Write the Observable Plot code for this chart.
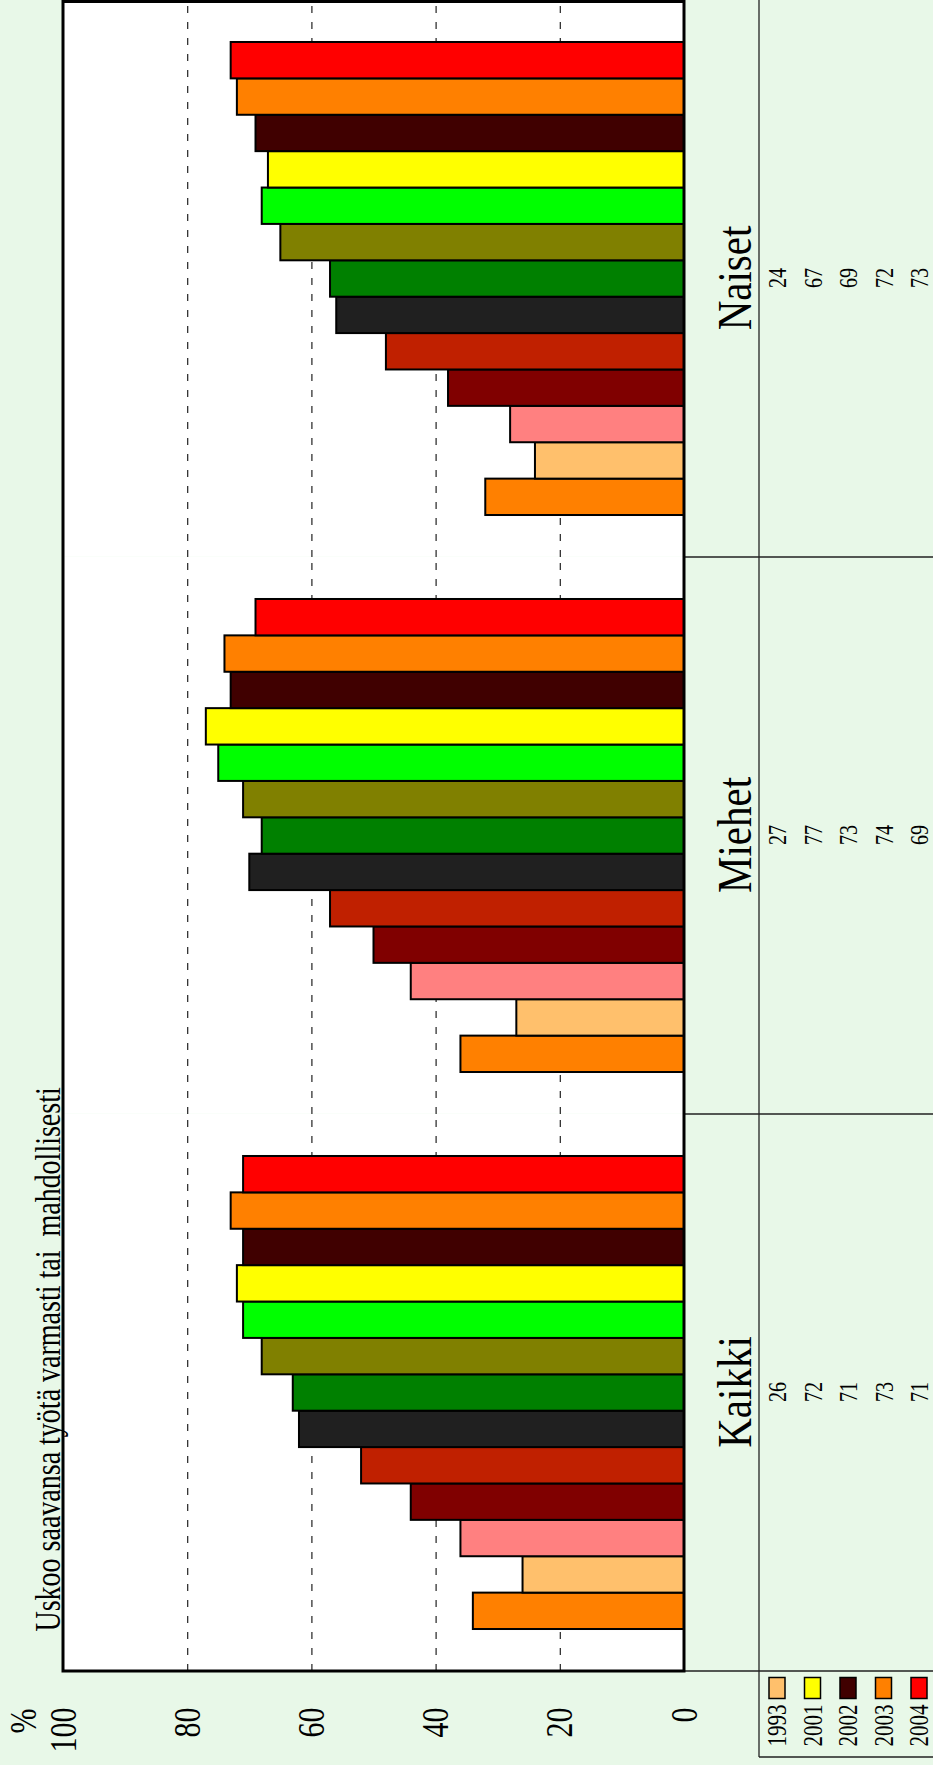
<!DOCTYPE html>
<html>
<head>
<meta charset="utf-8">
<script src="https://cdn.jsdelivr.net/npm/d3@7"></script>
<script src="https://cdn.jsdelivr.net/npm/@observablehq/plot@0.6"></script>
<style>
  html, body { margin: 0; padding: 0; width: 933px; height: 1765px; overflow: hidden; background: #e8f8e8; }
  #wrap { position: absolute; left: 0; top: 0; width: 1765px; height: 933px;
          transform-origin: 0 0; transform: translate(0px, 1765px) rotate(-90deg); }
</style>
</head>
<body>
<div id="wrap"></div>
<script>
// ---- data ----
const title = "Uskoo saavansa työtä varmasti tai  mahdollisesti";
const groups = ["Kaikki", "Miehet", "Naiset"];
const series = ["1991", "1993", "1994", "1995", "1996", "1997", "1998", "1999", "2000", "2001", "2002", "2003", "2004"];
const kaikki = [34, 26, 36, 44, 52, 62, 63, 68, 71, 72, 71, 73, 71];
const miehet = [36, 27, 44, 50, 57, 70, 68, 71, 75, 77, 73, 74, 69];
const naiset = [32, 24, 28, 38, 48, 56, 57, 65, 68, 67, 69, 72, 73];
const colors = ["#ff8000", "#ffc06c", "#ff8080", "#800000", "#c02000", "#202020", "#008000",
                "#808000", "#00ff00", "#ffff00", "#400000", "#ff8000", "#ff0000"];
const tableYears = ["1993", "2001", "2002", "2003", "2004"];
const yTicks = [0, 20, 40, 60, 80, 100];
const percentLabel = "%";

// ---- layout ----
const W = 1765, H = 933;
const mL = 94, mT = 63, mB = 249, mR = 0;
const rowBase = 101.5, rowStep = 35.5;
const stretch = 1.25;

const valuesByGroup = {Kaikki: kaikki, Miehet: miehet, Naiset: naiset};
const data = groups.flatMap(g => series.map((s, i) => ({group: g, series: s, value: valuesByGroup[g][i]})));
const valueOf = (g, yr) => valuesByGroup[g][series.indexOf(yr)];

const rectSymbol = { draw(ctx) { ctx.rect(-10.5, -8, 21, 16); } };

const marks = [
  Plot.frame({fill: "white", stroke: "none"}),
  Plot.ruleY(yTicks.filter(t => t > 0 && t < 100), {stroke: "#222", strokeWidth: 1.2, strokeDasharray: "7,9"}),
  Plot.barY(data, {fx: "group", x: "series", y: "value", fill: "series", stroke: "black", strokeWidth: 2}),
  Plot.axisY(yTicks, {tickSize: 0, tickPadding: 37, fontSize: 30, label: null}),
  Plot.text([percentLabel], {fx: () => groups[0], frameAnchor: "top-left", dx: -38, dy: -40,
    textAnchor: "end", lineAnchor: "middle", fontSize: 30}),
  Plot.text([title], {fx: () => groups[0], frameAnchor: "top-left", dx: 39, dy: -4,
    textAnchor: "start", lineAnchor: "bottom", fontSize: 28}),
  Plot.text(groups, {fx: d => d, text: d => d, frameAnchor: "bottom", dx: 0, dy: 66,
    lineAnchor: "bottom", fontSize: 41, className: "cat"})
];
tableYears.forEach((yr, r) => {
  marks.push(Plot.text(groups, {fx: d => d, text: g => valueOf(g, yr), frameAnchor: "bottom",
    dx: 0, dy: rowBase + r * rowStep, lineAnchor: "bottom", fontSize: 20}));
  marks.push(Plot.dot([yr], {fx: () => groups[0], fill: d => d, symbol: rectSymbol, r: 10,
    stroke: "black", strokeWidth: 1.5, frameAnchor: "bottom-left", dx: -17.5, dy: rowBase - 9 + r * rowStep}));
  marks.push(Plot.text([yr], {fx: () => groups[0], frameAnchor: "bottom-left", dx: -34,
    dy: rowBase + r * rowStep, textAnchor: "end", lineAnchor: "bottom", fontSize: 21}));
});

const plot = Plot.plot({
  width: W, height: H,
  marginLeft: mL, marginRight: mR, marginTop: mT, marginBottom: mB,
  style: {background: "#e8f8e8", fontFamily: "'Liberation Serif', 'Times New Roman', serif", color: "black"},
  fx: {domain: groups, padding: 0, axis: null, label: null},
  x: {domain: series, paddingInner: 0, paddingOuter: 1.154, round: false, axis: null},
  y: {domain: [0, 100]},
  color: {domain: series, range: colors},
  marks
});

document.getElementById("wrap").appendChild(plot);
const svg = d3.select(plot);
plot.style.whiteSpace = "pre";

// stretch text vertically (as in the reference)
svg.selectAll("text").each(function() {
  let t = this.getAttribute("transform");
  if (!t) {
    const x = this.getAttribute("x") || 0, y = this.getAttribute("y") || 0;
    this.removeAttribute("x"); this.removeAttribute("y");
    t = `translate(${x},${y})`;
  }
  const k = this.closest(".cat") ? 1.18 : stretch;
  this.setAttribute("transform", `${t} scale(1,${k})`);
});

// frame + data table lines (positions from the plot's scales)
const ys = plot.scale("y");
const fxs = plot.scale("fx");
const yTop = ys.apply(100), yZero = ys.apply(0);
const colLine = yZero + 75;
const left = mL, right = W - mR;
const g = svg.append("g").attr("fill", "none");
const bandEdges = groups.map(d => fxs.apply(d)).concat([right]);
bandEdges.slice(1, -1).forEach(x =>
  g.append("line").attr("x1", x).attr("x2", x).attr("y1", yZero).attr("y2", H).attr("stroke", "#222").attr("stroke-width", 1.3));
g.append("line").attr("x1", left).attr("x2", left).attr("y1", yZero).attr("y2", H).attr("stroke", "#222").attr("stroke-width", 1.3);
g.append("line").attr("x1", 8).attr("x2", right).attr("y1", colLine).attr("y2", colLine).attr("stroke", "#222").attr("stroke-width", 1.3);
g.append("line").attr("x1", 8).attr("x2", 8).attr("y1", colLine).attr("y2", H).attr("stroke", "#222").attr("stroke-width", 1.3);
g.append("rect").attr("x", left).attr("y", yTop).attr("width", right - left - 1.5).attr("height", yZero - yTop)
  .attr("stroke", "black").attr("stroke-width", 3);
</script>
</body>
</html>
